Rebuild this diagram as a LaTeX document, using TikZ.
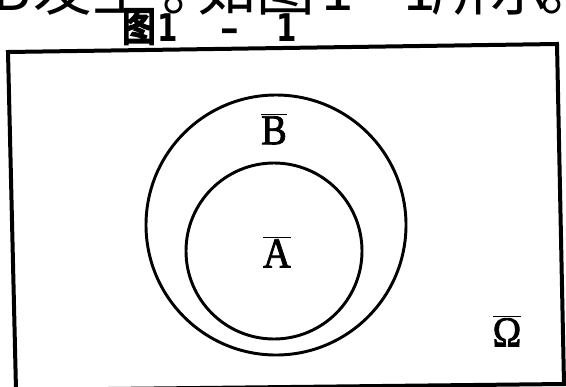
\documentclass[tikz,border=0pt]{standalone}
\usepackage{fontspec}
\setmainfont{Liberation Serif}
\newfontfamily\cjk{Noto Sans CJK SC}
\newfontfamily\cjkb[FakeBold=6]{Noto Sans CJK SC}
\newfontfamily\capdigits{DejaVu Sans}
\newfontfamily\labfont[FakeBold=2]{Liberation Serif}
\begin{document}
\begin{tikzpicture}[x=0.75pt,y=-0.75pt,
  frame/.style={line width=3pt,line join=miter},
  ring/.style={line width=2.2pt},
  setlabel/.style={inner sep=0pt,font=\labfont\fontsize{32}{32}\selectfont,xscale=0.9},
  toptext/.style={inner sep=0pt,anchor=base,font=\cjk\fontsize{44}{44}\selectfont},
  caption/.style={inner sep=0pt,anchor=base,font=\cjkb\fontsize{25}{25}\selectfont,yscale=1.2},
  capnum/.style={inner sep=0pt,anchor=base,font=\capdigits\bfseries\fontsize{22}{22}\selectfont,yscale=1.3},
  capdash/.style={inner sep=0pt,anchor=base,font=\capdigits\bfseries\fontsize{28}{28}\selectfont}]
\useasboundingbox (0,0) rectangle (566,386);
\begin{scope}
\clip (0,0) rectangle (566,386);
% clipped line of text above the figure
\node[toptext] (t0) at (12,10) {B};
\node[toptext] (t1) at (92,10) {发生};
\node[toptext] (t2) at (192,10) {。};
\node[toptext] (t3) at (256,10) {如图};
\node[toptext] (t4) at (338,10) {1};
\node[toptext] (t5) at (378,10) {－};
\node[toptext] (t6) at (420,10) {1};
\node[toptext] (t7) at (490,10) {所示};
\node[toptext] (t8) at (570,10) {。};
% caption
\node[caption] (c1) at (139,41) {图};
\node[capnum] (c2) at (168,41) {1};
\node[capdash] (c3) at (230,41) {–};
\node[capnum] (c4) at (287,41) {1};
% frame
\draw[frame] (8,52) -- (557,44) -- (564,384) -- (16,390) -- cycle;
\end{scope}
% sets
\draw[ring] (276,225) circle[radius=130];
\draw[ring] (274,251) circle[radius=88];
\node[setlabel] (B) at (274,129) {$\overline{\mbox{B}}$};
\node[setlabel] (A) at (277,252) {$\overline{\mbox{A}}$};
\node[setlabel] (O) at (507,331) {$\overline{\mbox{Ω}}$};
\end{tikzpicture}
\end{document}
